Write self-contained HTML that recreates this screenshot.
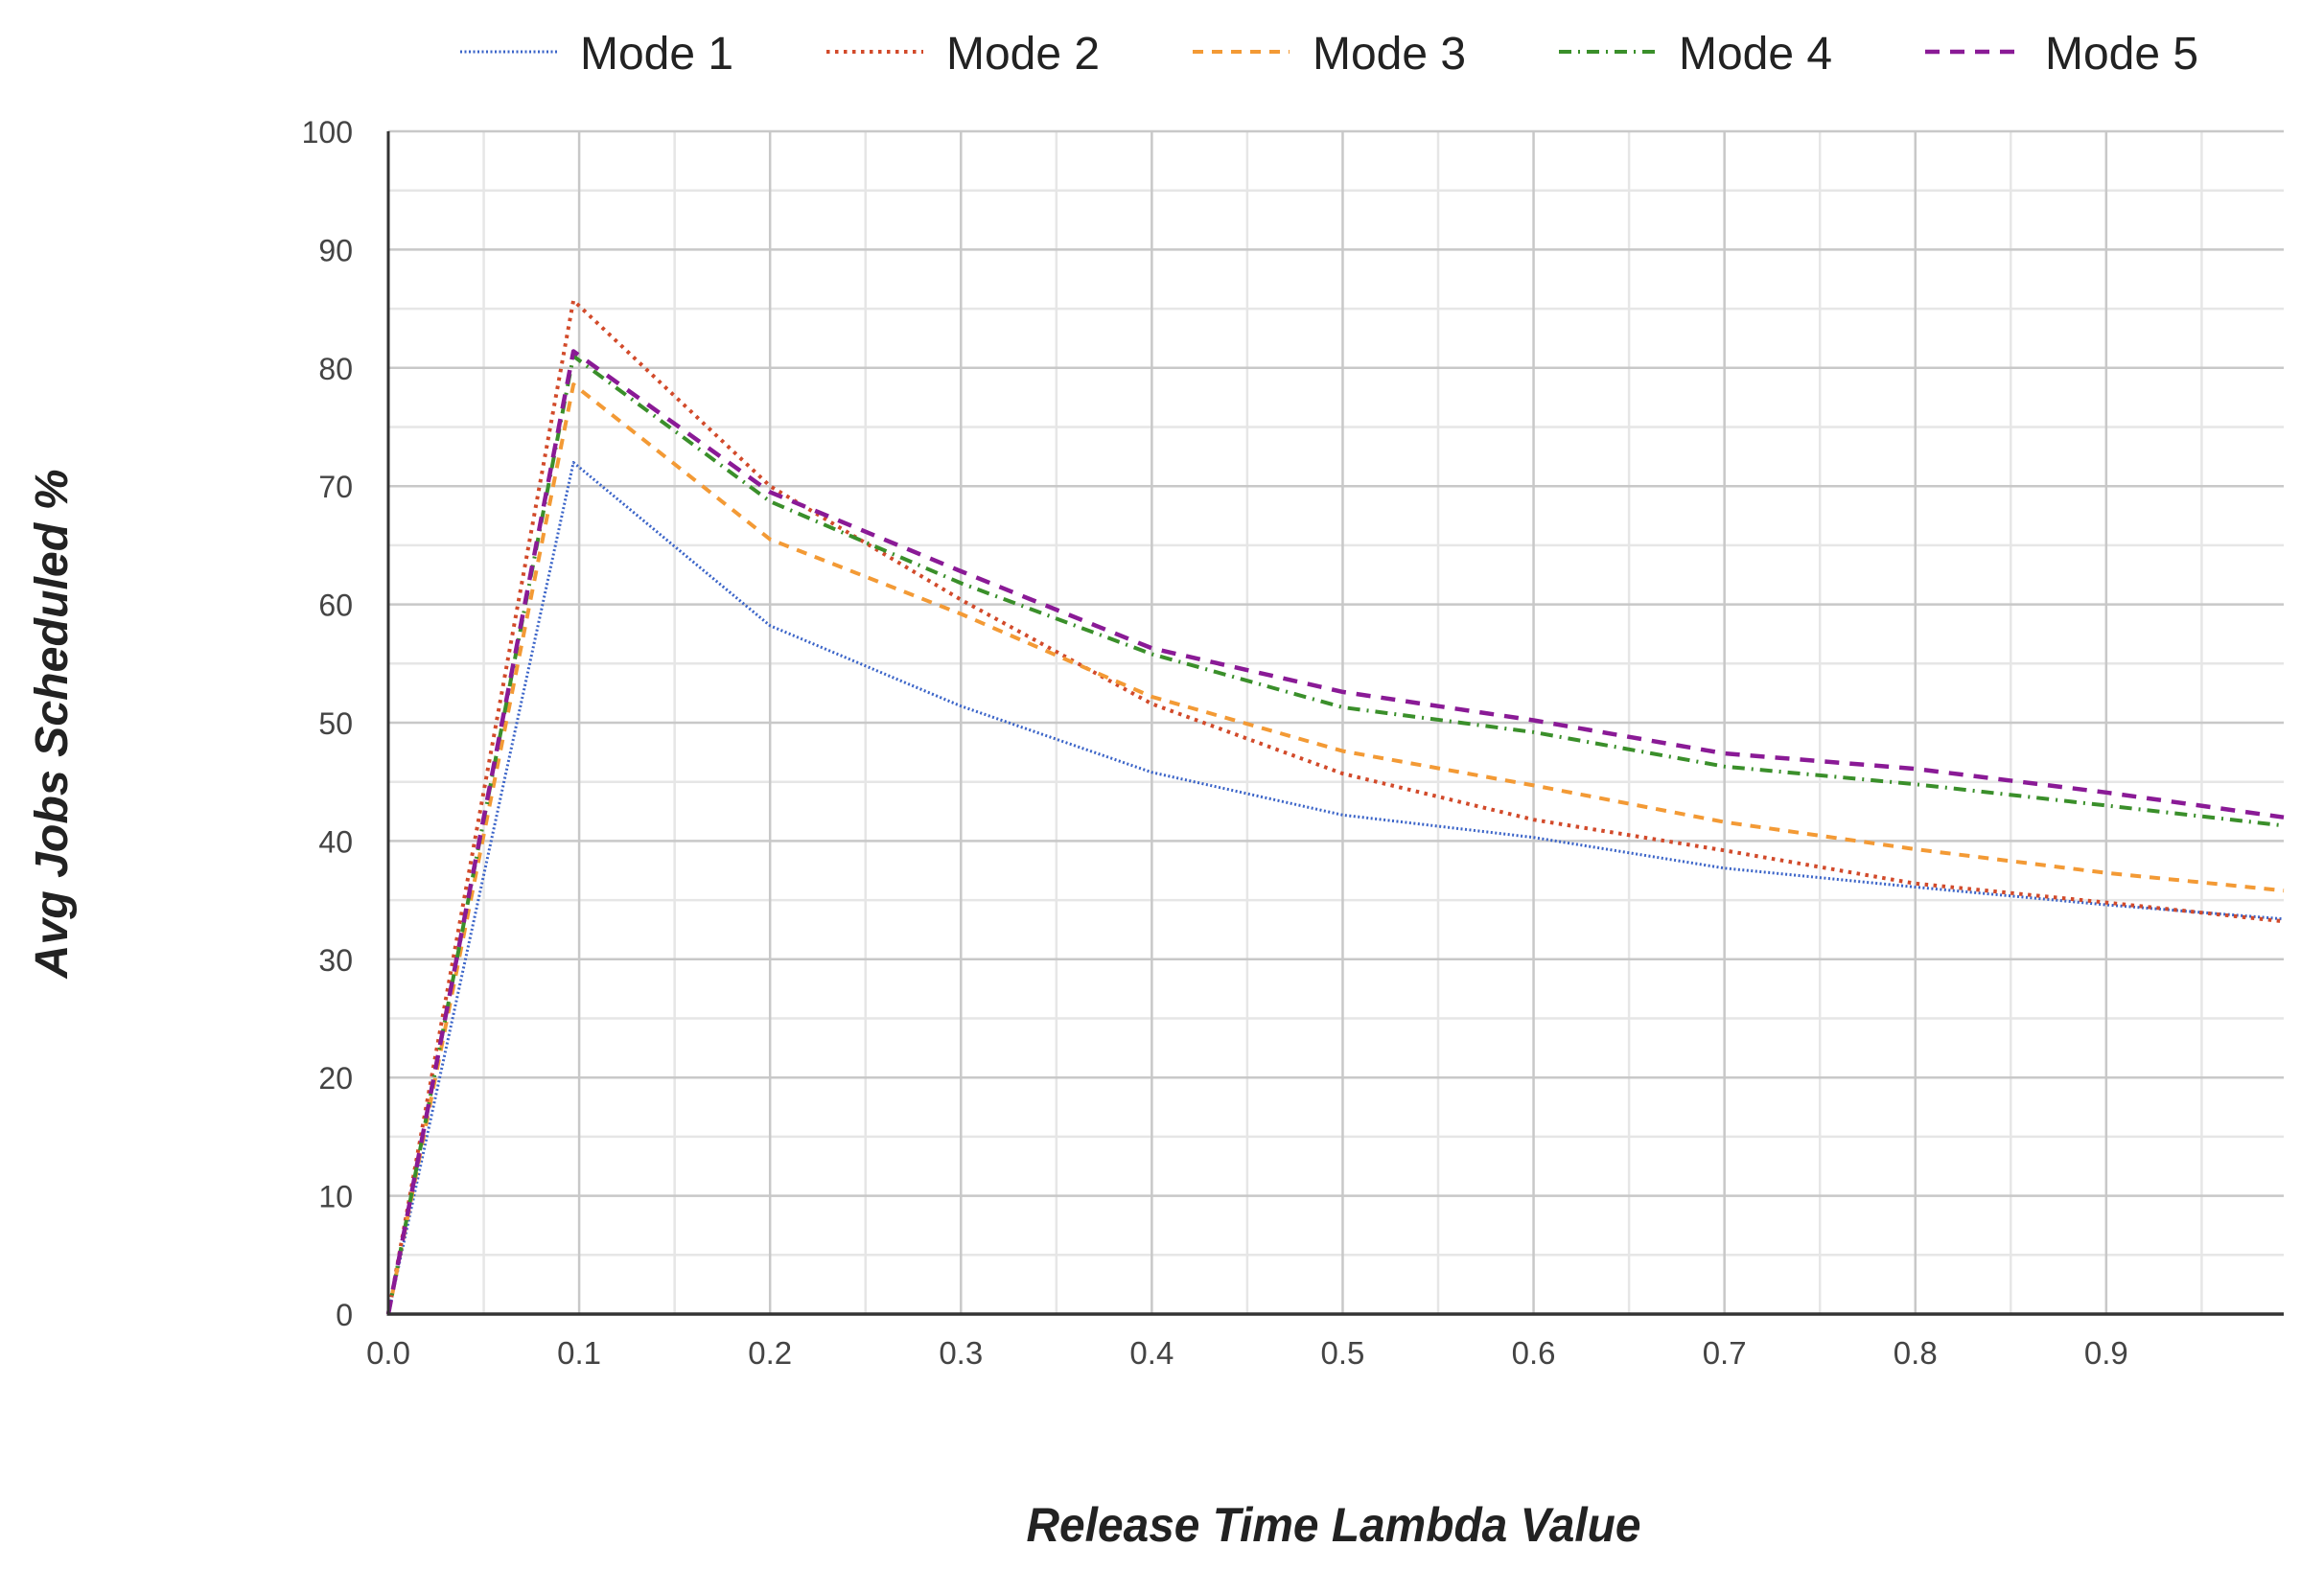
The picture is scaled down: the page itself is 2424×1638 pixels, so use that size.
<!DOCTYPE html>
<html><head><meta charset="utf-8"><style>
html,body{margin:0;padding:0;background:#fff;}
svg{display:block;font-family:"Liberation Sans",Arial,sans-serif;}
</style></head><body>
<svg id="chart" width="2424" height="1638" viewBox="0 0 2424 1638" xmlns="http://www.w3.org/2000/svg">
<g id="grid"></g>
<g id="series"></g>
<g id="axes"></g>
<g id="legend"></g>
<text transform="translate(70,755) rotate(-90)" text-anchor="middle" font-size="48" font-weight="bold" font-style="italic" fill="#222" textLength="531" lengthAdjust="spacingAndGlyphs">Avg Jobs Scheduled %</text>
<text x="1391" y="1608" text-anchor="middle" font-size="50" font-weight="bold" font-style="italic" fill="#222" textLength="641" lengthAdjust="spacingAndGlyphs">Release Time Lambda Value</text>
</svg>
<script>
const xValues = [0, 0.097, 0.2, 0.3, 0.4, 0.5, 0.6, 0.7, 0.8, 0.9, 0.993];
const mode1 = [0, 72.0, 58.2, 51.4, 45.8, 42.2, 40.3, 37.7, 36.1, 34.6, 33.4];
const mode2 = [0, 85.7, 70.0, 60.4, 51.6, 45.7, 41.8, 39.2, 36.4, 34.8, 33.2];
const mode3 = [0, 78.6, 65.5, 59.2, 52.2, 47.6, 44.7, 41.6, 39.3, 37.3, 35.8];
const mode4 = [0, 81.0, 68.7, 61.8, 55.8, 51.3, 49.2, 46.3, 44.8, 43.0, 41.3];
const mode5 = [0, 81.4, 69.5, 62.8, 56.3, 52.6, 50.2, 47.4, 46.1, 44.1, 42.0];
const seriesNames = ["Mode 1","Mode 2","Mode 3","Mode 4","Mode 5"];
const yTicks = [0,10,20,30,40,50,60,70,80,90,100];
const xTicks = [0,0.1,0.2,0.3,0.4,0.5,0.6,0.7,0.8,0.9];
const xTickLabels = ["0.0","0.1","0.2","0.3","0.4","0.5","0.6","0.7","0.8","0.9"];

const NS="http://www.w3.org/2000/svg";
const L=405,R=2382,T=137,B=1371,XMAX=0.993,YMAX=100;
const sx=v=>L+(v/XMAX)*(R-L);
const sy=v=>B-(v/YMAX)*(B-T);
function mk(tag,attrs,parent){const e=document.createElementNS(NS,tag);for(const k in attrs)e.setAttribute(k,attrs[k]);parent.appendChild(e);return e;}
const grid=document.getElementById('grid'),axes=document.getElementById('axes'),ser=document.getElementById('series'),leg=document.getElementById('legend');

for(let v=5;v<100;v+=10){const l=mk('line',{x1:L,x2:R,y1:sy(v),y2:sy(v),stroke:'#e6e6e6','stroke-width':2.5},grid);

}
for(let v=0.05;v<XMAX;v+=0.1){const l=mk('line',{x1:sx(v),x2:sx(v),y1:T,y2:B,stroke:'#e6e6e6','stroke-width':2.5},grid);

}
yTicks.forEach(v=>{if(v>0){const l=mk('line',{x1:L,x2:R,y1:sy(v),y2:sy(v),stroke:'#c8c8c8','stroke-width':2.5},grid);

}
const t=mk('text',{x:368,y:sy(v)+12,'text-anchor':'end','font-size':32,fill:'#444'},axes);t.textContent=v;

});
xTicks.forEach((v,i)=>{if(v>0){const l=mk('line',{x1:sx(v),x2:sx(v),y1:T,y2:B,stroke:'#c8c8c8','stroke-width':2.5},grid);

}
const t=mk('text',{x:sx(v),y:1423,'text-anchor':'middle','font-size':33,fill:'#444'},axes);t.textContent=xTickLabels[i];

});
const ya=mk('line',{x1:L,x2:L,y1:T,y2:B+1.5,stroke:'#333','stroke-width':3},axes);


const xa=mk('line',{x1:L-1.5,x2:R,y1:B,y2:B,stroke:'#333','stroke-width':3.5},axes);



const styles=[
 {c:'#3b64c8',w:3,d:'2 2.5'},
 {c:'#d24a2a',w:4,d:'3.5 5.5'},
 {c:'#f39a35',w:4,d:'11 9'},
 {c:'#3a8f2a',w:4,d:'13 7 2 7'},
 {c:'#8a1a96',w:4.5,d:'15 11'}];
const allSeries=[mode1,mode2,mode3,mode4,mode5];
allSeries.forEach((s,i)=>{
 const pts=s.map((v,j)=>sx(xValues[j]).toFixed(1)+','+sy(v).toFixed(1)).join(' ');
 const p=mk('polyline',{points:pts,fill:'none',stroke:styles[i].c,'stroke-width':styles[i].w,'stroke-dasharray':styles[i].d,'stroke-linejoin':'round'},ser);
 
 
});
const legX=[480,862,1244,1626,2008];
seriesNames.forEach((n,i)=>{
 const g=mk('g',{},leg);
 
 
 mk('line',{x1:legX[i],x2:legX[i]+101,y1:54,y2:54,stroke:styles[i].c,'stroke-width':styles[i].w,'stroke-dasharray':styles[i].d},g);
 const t=mk('text',{x:legX[i]+125,y:72,'font-size':48,fill:'#222'},g);t.textContent=n;
});
</script>
</body></html>
